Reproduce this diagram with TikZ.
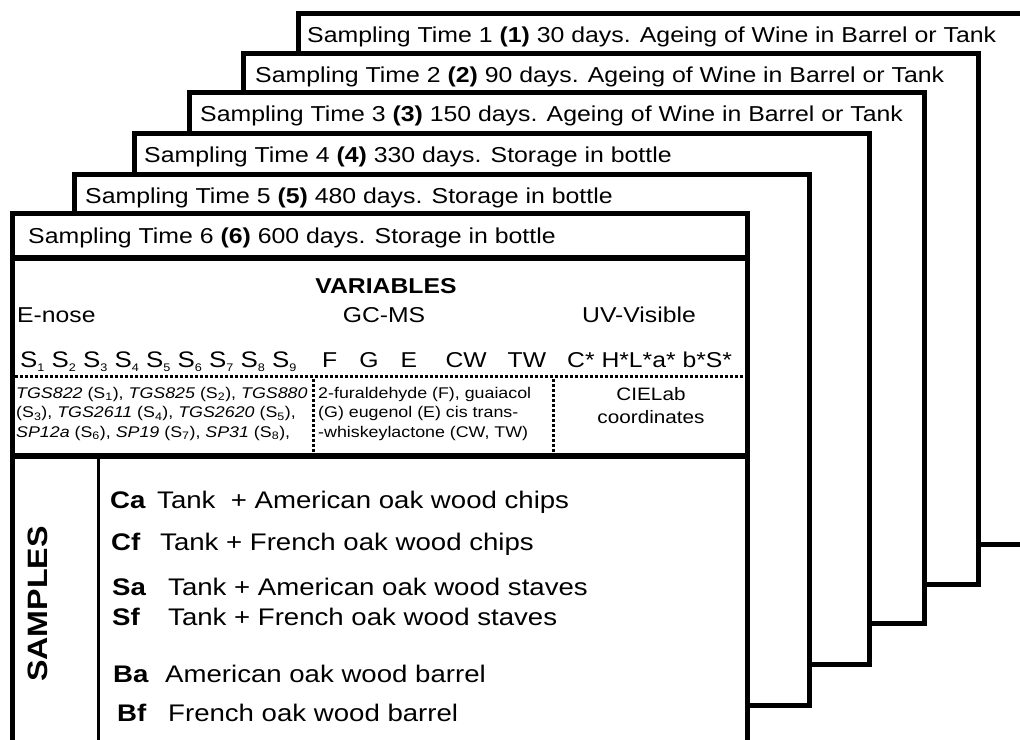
\documentclass[tikz,border=0pt]{standalone}
\usepackage{fontspec}
\setmainfont{Liberation Sans}[FakeStretch=1.15]
\usepackage{tikz}

\newcommand{\sensorsub}[1]{\raisebox{-0.22em}{\fontsize{11}{11}\selectfont #1}}

\begin{document}
\begin{tikzpicture}[
  x=1pt, y=-1pt,
  card/.style={draw=black, fill=white, line width=5pt, outer sep=0pt,
    minimum width=735pt, minimum height=531pt, anchor=north west},
  rule/.style={draw=black, line width=6pt},
  divider/.style={draw=black, line width=3pt},
  dots/.style={draw=black, line width=3pt, dash pattern=on 2.5pt off 2.5pt},
  title/.style={anchor=base west, inner sep=0pt, font=\fontsize{21.6}{26}\selectfont},
  head/.style={anchor=base, inner sep=0pt, font=\fontsize{21.5}{26}\selectfont},
  vars/.style={anchor=base west, inner sep=0pt, font=\fontsize{21.5}{26}\selectfont},
  note/.style={anchor=base west, inner sep=0pt, align=left,
    font=\fontsize{15.5}{19.5}\selectfont},
  code/.style={anchor=base west, inner sep=0pt, font=\fontsize{24}{28}\selectfont\bfseries},
  desc/.style={anchor=base west, inner sep=0pt, font=\fontsize{24}{28}\selectfont}
]
\useasboundingbox (0,0) rectangle (1020,739);
\clip (0,0) rectangle (1020,739);

\node[card] (time1) at (298,13) {};
\node[title] (title1) at ([xshift=9pt, yshift=-29.5pt]time1.north west)
  {Sampling Time 1 \textbf{(1)} 30 days. Ageing of Wine in Barrel or Tank};
\node[card] (time2) at (243,53) {};
\node[title] (title2) at ([xshift=12pt, yshift=-29.5pt]time2.north west)
  {Sampling Time 2 \textbf{(2)} 90 days. Ageing of Wine in Barrel or Tank};
\node[card] (time3) at (189,92) {};
\node[title] (title3) at ([xshift=11pt, yshift=-29.5pt]time3.north west)
  {Sampling Time 3 \textbf{(3)} 150 days. Ageing of Wine in Barrel or Tank};
\node[card] (time4) at (134,133) {};
\node[title] (title4) at ([xshift=10pt, yshift=-29.5pt]time4.north west)
  {Sampling Time 4 \textbf{(4)} 330 days. Storage in bottle};
\node[card] (time5) at (74,174) {};
\node[title] (title5) at ([xshift=11pt, yshift=-29.5pt]time5.north west)
  {Sampling Time 5 \textbf{(5)} 480 days. Storage in bottle};
\node[card] (time6) at (12,213) {};
\node[title] (title6) at ([xshift=16pt, yshift=-30pt]time6.north west)
  {Sampling Time 6 \textbf{(6)} 600 days. Storage in bottle};

\draw[rule] (12,258) -- (747,258);
\draw[rule] (12,456) -- (747,456);
\draw[dots] (15,376) -- (745,376);
\draw[dots] (313,379) -- (313,453);
\draw[dots] (553,379) -- (553,453);
\draw[divider] (98,456) -- (98,745);

\node[head, font=\fontsize{21.5}{26}\selectfont\bfseries] (variables) at (386,293) {VARIABLES};
\node[vars] (enose) at (17,322) {E-nose};
\node[head] (gcms) at (384,322) {GC-MS};
\node[head] (uvvis) at (639,322) {UV-Visible};

\node[vars, font=\fontsize{22.5}{26}\selectfont] (sensors) at (20,367)
  {S\sensorsub{1} S\sensorsub{2} S\sensorsub{3} S\sensorsub{4} S\sensorsub{5} S\sensorsub{6} S\sensorsub{7} S\sensorsub{8} S\sensorsub{9}};
\node[vars] (compounds) at (322,367)
  {F\hspace{22pt}G\hspace{22pt}E\hspace{28.5pt}CW\hspace{21pt}TW};
\node[vars] (colour) at (567,367) {C* H*L*a* b*S*};

\node[note] (sensornotes) at (16,437)
  {\textit{TGS822} (S\textsubscript{1}), \textit{TGS825} (S\textsubscript{2}), \textit{TGS880}\\
   (S\textsubscript{3}), \textit{TGS2611} (S\textsubscript{4}), \textit{TGS2620} (S\textsubscript{5}),\\
   \textit{SP12a} (S\textsubscript{6}), \textit{SP19} (S\textsubscript{7}), \textit{SP31} (S\textsubscript{8}),};
\node[note] (compoundnotes) at (318,437)
  {2-furaldehyde (F), guaiacol\\
   (G) eugenol (E) cis trans-\\
   -whiskeylactone (CW, TW)};
\node[note, anchor=base, align=center, font=\fontsize{18}{23}\selectfont] (cielab) at (651,423)
  {CIELab\\coordinates};

\node[anchor=center, inner sep=0pt, rotate=90, font=\fontsize{28}{32}\selectfont\bfseries] (samples) at (38,604) {SAMPLES};

\node[code] (ca) at (110,508) {Ca};
\node[desc] (cadesc) at (157,508) {Tank\ \ + American oak wood chips};
\node[code] (cf) at (111,550) {Cf};
\node[desc] (cfdesc) at (160,550) {Tank + French oak wood chips};
\node[code] (sa) at (112,595) {Sa};
\node[desc] (sadesc) at (168,595) {Tank + American oak wood staves};
\node[code] (sf) at (112,625) {Sf};
\node[desc] (sfdesc) at (168,625) {Tank + French oak wood staves};
\node[code] (ba) at (113,682) {Ba};
\node[desc] (badesc) at (165,682) {American oak wood barrel};
\node[code] (bf) at (117,721) {Bf};
\node[desc] (bfdesc) at (168,721) {French oak wood barrel};
\end{tikzpicture}
\end{document}
